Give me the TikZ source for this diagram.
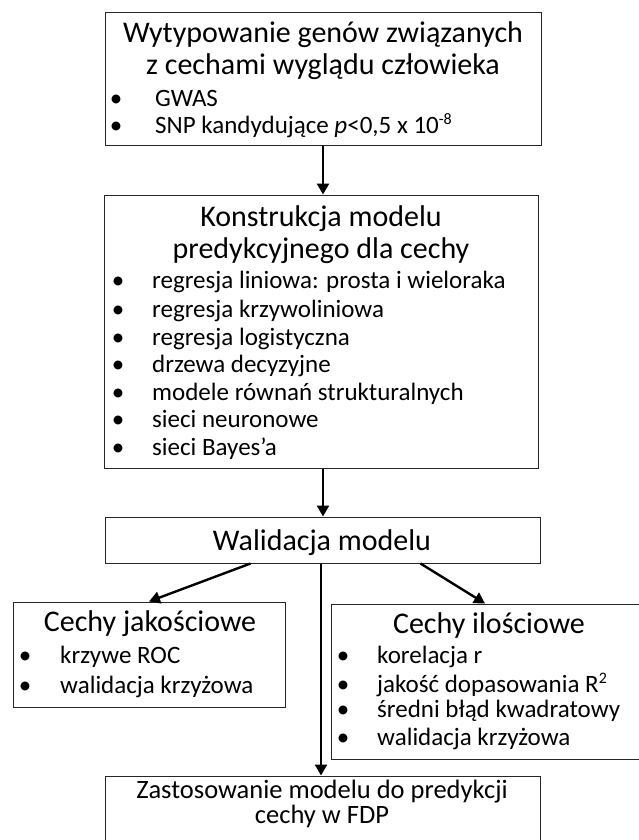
\documentclass[tikz,border=0pt]{standalone}
\usepackage{fontspec}
\setmainfont{Carlito}
\usetikzlibrary{arrows.meta}

\newcommand{\upidx}[1]{\raisebox{0.33em}{\fontsize{16}{16}\selectfont #1}}

\begin{document}
\begin{tikzpicture}[x=1pt,y=-1pt,
    box/.style={draw=black!85, line width=1pt, inner sep=0pt},
    arr/.style={-{Triangle[length=11pt,width=12pt]}, line width=2.4pt},
    head/.style={font=\fontsize{30}{34}\selectfont, anchor=base, inner sep=0pt},
    small/.style={font=\fontsize{26.5}{28}\selectfont, anchor=base, inner sep=0pt},
    item/.style={font=\fontsize{25}{28}\selectfont, anchor=base west, inner sep=0pt},
    dot/.style={font=\fontsize{25}{28}\selectfont, anchor=base, inner sep=0pt}]

            \useasboundingbox (0,0) rectangle (638,840);

            % Frames
            \node[box, minimum width=436pt, minimum height=132pt] (gwas) at (323,79) {};
            \node[box, minimum width=434pt, minimum height=273pt] (model) at (321,331.5) {};
            \node[box, minimum width=435pt, minimum height=46pt] (walid) at (322.5,540) {};
            \node[box, minimum width=272pt, minimum height=105pt] (jakosc) at (149,654.5) {};
            \node[box, minimum width=314pt, minimum height=155pt] (ilosc) at (488,681.5) {};
            \node[box, minimum width=435pt, minimum height=84pt] (zastos) at (322.5,818) {};

            % Titles
            \node[head] (gwasA) at (323,43) {Wytypowanie genów związanych};
            \node[head] (gwasB) at (323,75) {z cechami wyglądu człowieka};
            \node[head] (modelA) at (321,226) {Konstrukcja modelu};
            \node[head] (modelB) at (321,258) {predykcyjnego dla cechy};
            \node[head] (walidA) at (322,550) {Walidacja modelu};
            \node[head] (jakoscA) at (150,631) {Cechy jakościowe};
            \node[head] (iloscA) at (489,633) {Cechy ilościowe};
            \node[small] (zastosA) at (322,798) {Zastosowanie modelu do predykcji};
            \node[small] (zastosB) at (322,823) {cechy w FDP};

            % Bullet lists
            \foreach \y/\t in {107/GWAS,
                133/{SNP kandydujące \textit{p}<0,5 x 10\upidx{-8}}} {
                \node[dot] (gd\y) at (116,\y) {•};
                \node[item] (gi\y) at (155,\y) {\t};
            }

            \foreach \y/\t in {288/{regresja liniowa: prosta i wieloraka},
                317/{regresja krzywoliniowa},
                345/{regresja logistyczna},
                372/{drzewa decyzyjne},
                400/{modele równań strukturalnych},
                427/{sieci neuronowe},
                455/{sieci Bayes’a}} {
                \node[dot] (md\y) at (118,\y) {•};
                \node[item] (mi\y) at (152,\y) {\t};
            }

            \foreach \y/\t in {663/{krzywe ROC}, 693/{walidacja krzyżowa}} {
                \node[dot] (jd\y) at (25,\y) {•};
                \node[item] (ji\y) at (60,\y) {\t};
            }

            \foreach \y/\t in {663/{korelacja r},
                692/{jakość dopasowania R\upidx{2}},
                717/{średni błąd kwadratowy},
                745/{walidacja krzyżowa}} {
                \node[dot] (id\y) at (343,\y) {•};
                \node[item] (ii\y) at (377,\y) {\t};
            }

            % Arrows
            \draw[arr] (gwas.south) -- (gwas.south |- model.north);
            \draw[arr] ([xshift=2pt]model.south) -- ([xshift=2pt]model.south |- walid.north);
            \draw[arr] ([xshift=-72pt]walid.south) -- (jakosc.north);
            \draw[arr] ([xshift=98pt]walid.south) -- ([xshift=-3pt]ilosc.north);
            \draw[arr] ([xshift=-1.5pt]walid.south) -- ([xshift=-1.5pt]zastos.north);

\end{tikzpicture}
\end{document}
